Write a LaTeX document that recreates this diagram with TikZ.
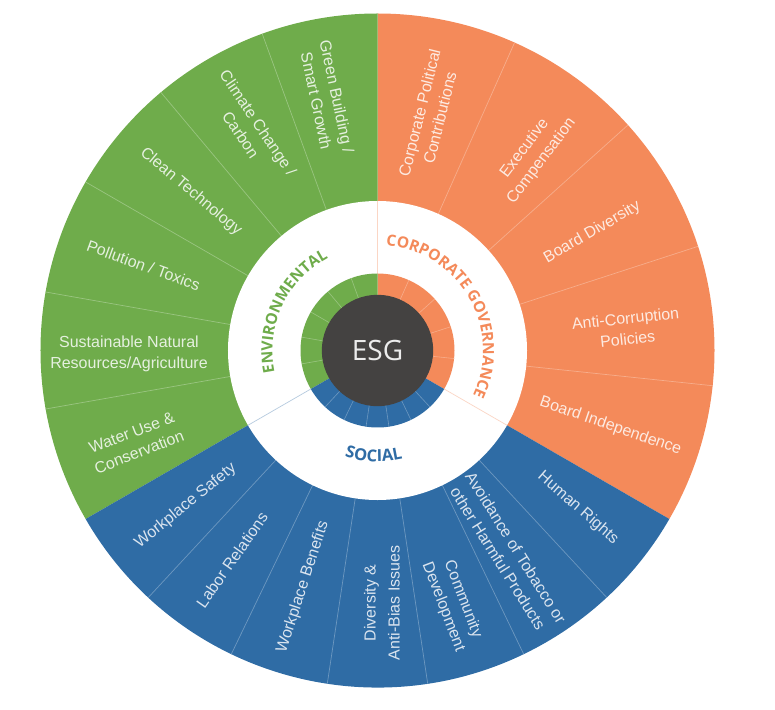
\documentclass[tikz,border=0pt]{standalone}
\usepackage{fontspec}
\setmainfont{Liberation Sans}
\newfontfamily\ringfont{Open Sans}
\usetikzlibrary{decorations.text}

\definecolor{envgreen}{HTML}{6FAC4B}
\definecolor{govorange}{HTML}{F48A5A}
\definecolor{socblue}{HTML}{2F6CA5}
\definecolor{esgdark}{HTML}{444241}

\tikzset{
  itemlabel/.style={align=center, font=\fontsize{16}{21}\selectfont, inner sep=0pt},
  greenitem/.style={itemlabel, text=white!82!envgreen},
  orangeitem/.style={itemlabel, text=white!82!govorange},
  blueitem/.style={itemlabel, text=white!82!socblue}
}

\begin{document}
\begin{tikzpicture}[x=1pt, y=1pt]
\useasboundingbox (-377.5,-358.5) rectangle (397.5,350.5);

% outer sectors
\fill[govorange] (0,0) -- (90:337) arc (90:-30:337) -- cycle;
\fill[envgreen] (0,0) -- (90:337) arc (90:210:337) -- cycle;
\fill[socblue] (0,0) -- (210:337) arc (210:330:337) -- cycle;

% dividers of the outer ring
\foreach \a in {66,42,18,-6}
  \draw[white!30!govorange, line width=0.7pt] (\a:149.5) -- (\a:337);
\foreach \a in {110,130,150,170,190}
  \draw[white!30!envgreen, line width=0.7pt] (\a:149.5) -- (\a:337);
\foreach \a in {227.14,244.29,261.43,278.57,295.71,312.86}
  \draw[white!30!socblue, line width=0.7pt] (\a:149.5) -- (\a:337);

% white ring and its three seams
\fill[white] (0,0) circle (149.5);
\draw[govorange!35, line width=0.7pt] (90:77) -- (90:149.5);
\draw[govorange!35, line width=0.7pt] (-30:77) -- (-30:149.5);
\draw[socblue!35, line width=0.7pt] (210:77) -- (210:149.5);

% inner ring
\fill[govorange] (0,0) -- (90:77) arc (90:-30:77) -- cycle;
\fill[envgreen] (0,0) -- (90:77) arc (90:210:77) -- cycle;
\fill[socblue] (0,0) -- (210:77) arc (210:330:77) -- cycle;
\foreach \a in {66,42,18,-6}
  \draw[white!30!govorange, line width=0.6pt] (\a:55) -- (\a:77);
\foreach \a in {110,130,150,170,190}
  \draw[white!30!envgreen, line width=0.6pt] (\a:55) -- (\a:77);
\foreach \a in {227.14,244.29,261.43,278.57,295.71,312.86}
  \draw[white!30!socblue, line width=0.6pt] (\a:55) -- (\a:77);

\node[circle, fill=esgdark, inner sep=0pt, minimum size=111.4pt, text=white!90!esgdark,
  font=\ringfont\fontsize{28}{28}\selectfont] (esg) at (0,0) {ESG};

% titles on the white ring
\path[decorate, decoration={text along path, text align=center,
  text={|\ringfont\bfseries\fontsize{15.5}{15.5}\selectfont\color{envgreen}|ENVIRONMENTAL}}]
  (200:105) arc (200:110:105);
\path[decorate, decoration={text along path, text align=center,
  text={|\ringfont\bfseries\fontsize{15.5}{15.5}\selectfont\color{govorange}|CORPORATE GOVERNANCE}}]
  (100:105.5) arc (100:-40:105.5);
\path[decorate, decoration={text along path, text align=center,
  text={|\ringfont\bfseries\fontsize{16.5}{16.5}\selectfont\color{socblue}|SOCIAL}}]
  (228:111) arc (228:308:111);

% corporate governance
\node[orangeitem, rotate=76] (politicalItem) at (77.5:241) {Corporate Political\\Contributions};
\node[orangeitem, rotate=53] (compensationItem) at (51.5:250) {Executive\\Compensation};
\node[orangeitem, rotate=30] (diversityItem) at (28.8:245) {Board Diversity};
\node[orangeitem, rotate=6] (corruptionItem) at (5:250) {Anti-Corruption\\Policies};
\node[orangeitem, rotate=-19] (independenceItem) at (-18:245) {Board Independence};

% environmental
\node[greenitem, rotate=-78] (buildingItem) at (101.4:257) {Green Building /\\Smart Growth};
\node[greenitem, rotate=-56] (climateItem) at (120:256) {Climate Change /\\Carbon};
\node[greenitem, rotate=-40] (cleanItem) at (139.6:245) {Clean Technology};
\node[greenitem, rotate=-20] (pollutionItem) at (160:249) {Pollution / Toxics};
\node[greenitem] (resourcesItem) at (-248.5,-3) {Sustainable Natural\\Resources/Agriculture};
\node[greenitem, rotate=21] (waterItem) at (200.8:259) {Water Use \&\\Conservation};

% social
\node[blueitem, rotate=39] (safetyItem) at (219:247) {Workplace Safety};
\node[blueitem, rotate=55] (laborItem) at (235.2:255) {Labor Relations};
\node[blueitem, rotate=72] (benefitsItem) at (252.5:248) {Workplace Benefits};
\node[blueitem, rotate=90] (biasItem) at (4.5,-252.5) {Diversity \&\\[3pt]Anti-Bias Issues};
\node[blueitem, rotate=-69] (communityItem) at (75.5,-252.5) {Community\\Development};
\node[blueitem, rotate=-58] (tobaccoItem) at (129.5,-202.5) {Avoidance of Tobacco or\\other Harmful Products};
\node[blueitem, rotate=-41] (rightsItem) at (200.5,-157.5) {Human Rights};

\end{tikzpicture}
\end{document}
